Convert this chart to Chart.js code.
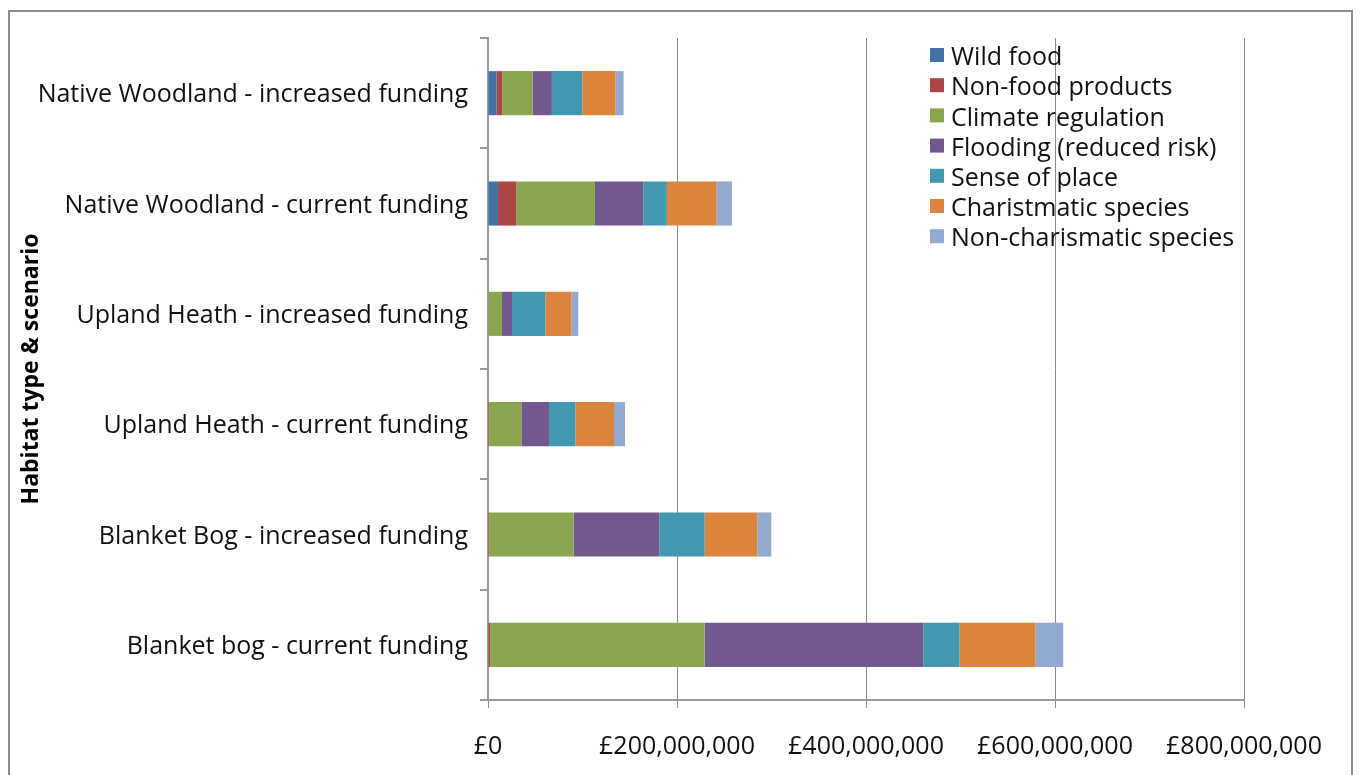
<!DOCTYPE html>
<html>
<head>
<meta charset="utf-8">
<title>Ecosystem service values by habitat type and scenario</title>
<script src="https://cdn.jsdelivr.net/npm/chart.js@4.4.1/dist/chart.umd.min.js"></script>
<style>
  html, body { margin: 0; padding: 0; background: #fff; }
  #wrap { position: relative; width: 1360px; height: 775px; }
</style>
</head>
<body>
<div id="wrap"><canvas id="valueChart"></canvas></div>
<script>
// Rows, top to bottom
const scenarios = [
    'Native Woodland - increased funding',
    'Native Woodland - current funding',
    'Upland Heath - increased funding',
    'Upland Heath - current funding',
    'Blanket Bog - increased funding',
    'Blanket bog - current funding'
];

// Value of each service per row, in £ millions
const wildFood        = [9.2, 10.6, 0, 0, 0, 0];
const nonFood         = [6.0, 19.4, 0, 1.5, 1.5, 2.4];
const climate         = [32.0, 83.2, 14.8, 33.8, 89.2, 226.8];
const flooding        = [20.4, 51.2, 10.6, 29.3, 90.6, 231.6];
const senseOfPlace    = [32.2, 24.9, 35.3, 27.9, 48.0, 38.2];
const charismatic     = [35.2, 52.6, 27.5, 40.9, 55.7, 80.4];
const nonCharismatic  = [8.5, 16.2, 7.4, 11.6, 14.8, 29.3];

const seriesNames = [
    'Wild food',
    'Non-food products',
    'Climate regulation',
    'Flooding (reduced risk)',
    'Sense of place',
    'Charistmatic species',
    'Non-charismatic species'
];
const seriesColors = ['#4572A7', '#AA4643', '#89A54E', '#71588F', '#4198AF', '#DB843D', '#93A9CF'];

// Value axis, £ millions
const axisMin = 0;
const axisMax = 800;
const axisStep = 200;

const FONT_FAMILY = '"Open Sans", Lato, sans-serif';
const FONT_SIZE = 25;
const GRID_GREY = '#8a8a8a';
const AXIS_GREY = '#9a9a9a';

/**
 * Grey frame round the whole chart
 */
const chartFrame = {
    id: 'chartFrame',
    beforeDraw(chart) {
        const ctx = chart.ctx;
        ctx.save();
        ctx.fillStyle = '#fff';
        ctx.fillRect(0, 0, chart.width, chart.height);
        ctx.strokeStyle = '#8c8c8c';
        ctx.lineWidth = 2;
        ctx.strokeRect(9, 11, 1343, 800);
        ctx.restore();
    }
};

/**
 * Legend drawn inside the plot, top right
 */
const insideLegend = {
    id: 'insideLegend',
    afterDraw(chart) {
        const ctx = chart.ctx;
        ctx.save();
        ctx.font = `${FONT_SIZE}px ${FONT_FAMILY}`;
        ctx.textBaseline = 'middle';
        ctx.textAlign = 'left';
        chart.data.datasets.forEach((ds, i) => {
            const y = 55 + i * 30.2;
            ctx.fillStyle = ds.backgroundColor;
            ctx.fillRect(930, y - 7, 14, 14);
            ctx.fillStyle = '#111';
            ctx.fillText(ds.label, 951, y + 3);
        });
        ctx.restore();
    }
};

const seriesData = [wildFood, nonFood, climate, flooding, senseOfPlace, charismatic, nonCharismatic];

const datasets = seriesNames.map((name, i) => ({
    label: name,
    data: seriesData[i].map(v => v * 1e6),
    backgroundColor: seriesColors[i],
    borderWidth: 0,
    categoryPercentage: 1,
    barPercentage: 0.4
}));

function formatPounds(value) {
    return '£' + Number(value).toLocaleString('en-GB');
}

const ctx = document.getElementById('valueChart').getContext('2d');
new Chart(ctx, {
    type: 'bar',
    data: { labels: scenarios, datasets: datasets },
    plugins: [chartFrame, insideLegend],
    options: {
        indexAxis: 'y',
        responsive: true,
        maintainAspectRatio: false,
        animation: false,
        layout: { padding: { top: 38, right: 116, bottom: 0, left: 0 } },
        plugins: {
            legend: { display: false },
            tooltip: { enabled: false }
        },
        scales: {
            x: {
                stacked: true,
                min: axisMin * 1e6,
                max: axisMax * 1e6,
                grid: {
                    color: GRID_GREY,
                    lineWidth: 1,
                    tickLength: 8,
                    drawTicks: true
                },
                border: { display: true, color: AXIS_GREY, width: 2 },
                ticks: {
                    stepSize: axisStep * 1e6,
                    color: '#111',
                    padding: 24,
                    maxRotation: 0,
                    font: { family: FONT_FAMILY, size: FONT_SIZE },
                    callback: value => formatPounds(value)
                },
                afterFit(scale) {
                    scale.height = 75;
                    scale.paddingLeft = 0;
                    scale.paddingRight = 0;
                }
            },
            y: {
                stacked: true,
                grid: {
                    color: AXIS_GREY,
                    lineWidth: 2,
                    drawOnChartArea: false,
                    tickLength: 8
                },
                border: { display: true, color: AXIS_GREY, width: 2 },
                ticks: {
                    color: '#111',
                    padding: 12,
                    labelOffset: 2,
                    font: { family: FONT_FAMILY, size: FONT_SIZE }
                },
                title: {
                    display: true,
                    text: 'Habitat type & scenario',
                    color: '#000',
                    font: { family: FONT_FAMILY, size: 23, weight: 'bold' },
                    padding: { top: 18, bottom: 0 }
                },
                afterFit(scale) {
                    scale.width = 488;
                    scale.paddingTop = 0;
                    scale.paddingBottom = 0;
                }
            }
        }
    }
});
</script>
</body>
</html>
